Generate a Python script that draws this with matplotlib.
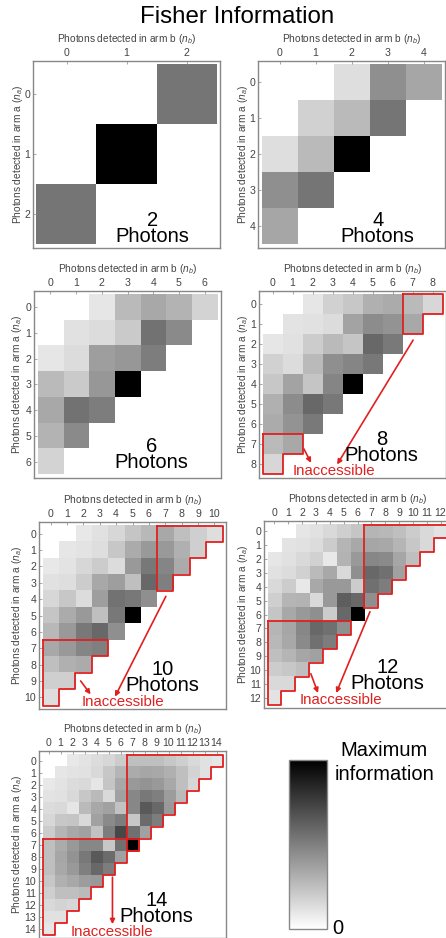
import numpy as np
import matplotlib
matplotlib.use('Agg')
import matplotlib.pyplot as plt
from matplotlib.colors import LinearSegmentedColormap, Normalize
from matplotlib.cm import ScalarMappable

plt.rcParams['font.family'] = ['Liberation Sans', 'DejaVu Sans']
plt.rcParams['mathtext.fontset'] = 'custom'
plt.rcParams['mathtext.rm'] = 'Liberation Sans'
plt.rcParams['mathtext.it'] = 'Liberation Sans:italic'

# Fisher information per cell, rows = n_a, cols = n_b (scaled so max = 1), 0 = empty
fisher_2 = [[0, 0, .54],
            [0, 1, 0],
            [.54, 0, 0]]

fisher_4 = [[0, 0, .13, .44, .35],
            [0, .18, .27, .54],
            [.13, .27, 1],
            [.44, .54],
            [.35]]

fisher_6 = [[0, 0, .10, .27, .34, .30, .17],
            [0, .12, .14, .21, .55, .46],
            [.10, .14, .38, .41, .51],
            [.27, .21, .41, 1],
            [.34, .55, .51],
            [.30, .46],
            [.17]]

fisher_8 = [[0, 0, .10, .18, .22, .31, .33, .27, .16],
            [0, .11, .12, .14, .36, .45, .42, .34],
            [.10, .12, .20, .27, .23, .59, .52],
            [.18, .14, .27, .44, .48, .53],
            [.22, .36, .23, .48, 1],
            [.31, .45, .59, .53],
            [.33, .42, .52],
            [.27, .34],
            [.16]]

fisher_10 = [[0, 0, .09, .12, .16, .23, .28, .34, .25, .19, .13],
             [0, .10, .11, .13, .22, .33, .40, .40, .31, .19],
             [.09, .11, .16, .20, .14, .40, .53, .48, .33],
             [.12, .13, .20, .34, .38, .25, .59, .50],
             [.16, .22, .14, .38, .55, .53, .44],
             [.23, .33, .40, .25, .53, 1],
             [.28, .40, .53, .59, .44],
             [.34, .40, .48, .50],
             [.25, .31, .33],
             [.19, .19],
             [.13]]

fisher_12 = [[0, 0, .10, .12, .15, .19, .23, .29, .28, .25, .20, .15, .11],
             [0, .11, .12, .14, .20, .29, .34, .35, .34, .29, .22, .15],
             [.10, .12, .15, .18, .09, .30, .40, .47, .46, .35, .25],
             [.12, .14, .18, .27, .34, .15, .44, .59, .56, .37],
             [.15, .20, .09, .34, .40, .40, .20, .56, .51],
             [.19, .29, .30, .15, .40, .63, .59, .44],
             [.23, .34, .40, .44, .20, .59, 1],
             [.29, .35, .47, .59, .56, .44],
             [.28, .34, .46, .56, .51],
             [.25, .29, .35, .37],
             [.20, .22, .25],
             [.15, .15],
             [.11]]

fisher_14 = [[0, 0, .09, .11, .14, .16, .20, .25, .25, .25, .22, .19, .15, .12, .10],
             [0, .10, .11, .12, .15, .22, .29, .33, .35, .34, .31, .25, .17, .12],
             [.09, .11, .14, .15, .10, .23, .34, .40, .42, .40, .34, .25, .16],
             [.11, .12, .15, .22, .27, .15, .37, .47, .53, .50, .39, .27],
             [.14, .15, .10, .27, .34, .37, .24, .47, .65, .59, .40],
             [.16, .22, .23, .15, .37, .46, .51, .22, .58, .51],
             [.20, .29, .34, .37, .24, .51, .72, .56, .37],
             [.25, .33, .40, .47, .47, .22, .56, 1],
             [.25, .35, .42, .53, .65, .58, .37],
             [.25, .34, .40, .50, .59, .51],
             [.22, .31, .34, .39, .40],
             [.19, .25, .25, .27],
             [.15, .17, .16],
             [.12, .12],
             [.10]]

photon_numbers = [2, 4, 6, 8, 10, 12, 14]
matrices = [fisher_2, fisher_4, fisher_6, fisher_8, fisher_10, fisher_12, fisher_14]
first_inaccessible = 7

# arrows (from, to) in cell coordinates (n_b, n_a)
arrows = {
    8: [((1.57, 7.22), (1.93, 7.92)), ((7.03, 1.78), (3.23, 8.0))],
    10: [((1.83, 9.0), (2.44, 9.82)), ((7.04, 3.83), (3.93, 9.96))],
    12: [((2.63, 10.28), (3.15, 11.67)), ((6.9, 5.8), (4.46, 11.67))],
    14: [((5.33, 9.72), (5.33, 13.64))],
}

# layout in pixels: left, top of axes box
W, H = 446, 938
BOX = 187
PAD = 3.5
boxes = [(33, 61), (258, 61), (34, 291), (259, 291), (39, 522), (264, 521), (39, 751)]
ylabel_x = [-0.08, -0.08, -0.09, -0.086, -0.118, -0.112, -0.118]
# "Photons" baseline, Inaccessible baseline, text x, Inaccessible x
text_pos = [(0.032, None, 0.64, None),
            (0.032, None, 0.64, None),
            (0.052, None, 0.63, None),
            (0.089, 0.017, 0.655, 0.40),
            (0.097, 0.018, 0.66, 0.45),
            (0.102, 0.024, 0.66, 0.41),
            (0.086, 0.013, 0.63, 0.39)]

RED = '#e02020'
LABEL_COLOR = '#444444'
cmap = LinearSegmentedColormap.from_list('fisher', ['white', 'black'])


def staircase(n, k):
    # outline of cells with row >= k and row + col <= n
    pts = [(-0.5, k - 0.5)]
    for r in range(k, n + 1):
        c = n - r
        pts.append((c + 0.5, r - 0.5))
        pts.append((c + 0.5, r + 0.5))
    pts.append((-0.5, n + 0.5))
    pts.append((-0.5, k - 0.5))
    return np.array(pts)


fig = plt.figure(figsize=(W / 100, H / 100), dpi=100)
fig.text(0.532, 1 - 17 / H, 'Fisher Information', ha='center', va='center', fontsize=17.4)

for i, n in enumerate(photon_numbers):
    left, top = boxes[i]
    ax = fig.add_axes([left / W, 1 - (top + BOX) / H, BOX / W, BOX / H])
    size = n + 1
    data = np.zeros((size, size))
    for r, row in enumerate(matrices[i]):
        data[r, :len(row)] = row
    ax.imshow(data, cmap=cmap, vmin=0, vmax=1, interpolation='nearest', aspect='auto')
    m = PAD * size / (BOX - 2 * PAD)
    ax.set_xlim(-0.5 - m, n + 0.5 + m)
    ax.set_ylim(n + 0.5 + m, -0.5 - m)

    ax.xaxis.tick_top()
    ax.xaxis.set_label_position('top')
    ax.set_xticks(range(size))
    ax.set_yticks(range(size))
    ax.tick_params(direction='in', length=2, width=0.6, color='#999999', labelsize=7.6,
                   labelcolor=LABEL_COLOR, pad=2)
    ax.set_xlabel('Photons detected in arm b ($n_b$)', fontsize=7.3, color=LABEL_COLOR, va='center')
    ax.set_ylabel('Photons detected in arm a ($n_a$)', fontsize=7.3, color=LABEL_COLOR, va='center')
    ax.xaxis.set_label_coords(0.5, 1.118)
    ax.yaxis.set_label_coords(ylabel_x[i], 0.5)
    for sp in ax.spines.values():
        sp.set_color('#888888')
        sp.set_linewidth(1.0)

    if n >= first_inaccessible + 1:
        low = staircase(n, first_inaccessible)
        ax.plot(low[:, 0], low[:, 1], color=RED, lw=1.3, clip_on=False)
        ax.plot(low[:, 1], low[:, 0], color=RED, lw=1.3, clip_on=False)
        for (x0, y0), (x1, y1) in arrows[n]:
            ax.annotate('', xy=(x1, y1), xytext=(x0, y0),
                        arrowprops=dict(arrowstyle='-|>', color=RED, lw=1.2,
                                        mutation_scale=7, shrinkA=0, shrinkB=0))

    yp, yi, xt, xi = text_pos[i]
    ax.text(xt, yp, '%d\nPhotons' % n, transform=ax.transAxes, ha='center', va='baseline',
            fontsize=14.5, linespacing=0.8, multialignment='center')
    if yi is not None:
        ax.text(xi, yi, 'Inaccessible', transform=ax.transAxes, ha='center', va='baseline',
                fontsize=10.8, color=RED)

# colour scale
cax = fig.add_axes([289 / W, 1 - 929 / H, 38 / W, 169 / H])
cb = fig.colorbar(ScalarMappable(norm=Normalize(0, 1), cmap=cmap), cax=cax)
cb.set_ticks([])
cb.outline.set_edgecolor('#888888')
cb.outline.set_linewidth(1.0)
fig.text(384 / W, 1 - 750 / H, 'Maximum', ha='center', va='center', fontsize=14.5)
fig.text(385 / W, 1 - 774 / H, 'information', ha='center', va='center', fontsize=14.5)
fig.text(338 / W, 1 - 928 / H, '0', ha='center', va='center', fontsize=14.5)

fig.savefig('out.png', dpi=100)
